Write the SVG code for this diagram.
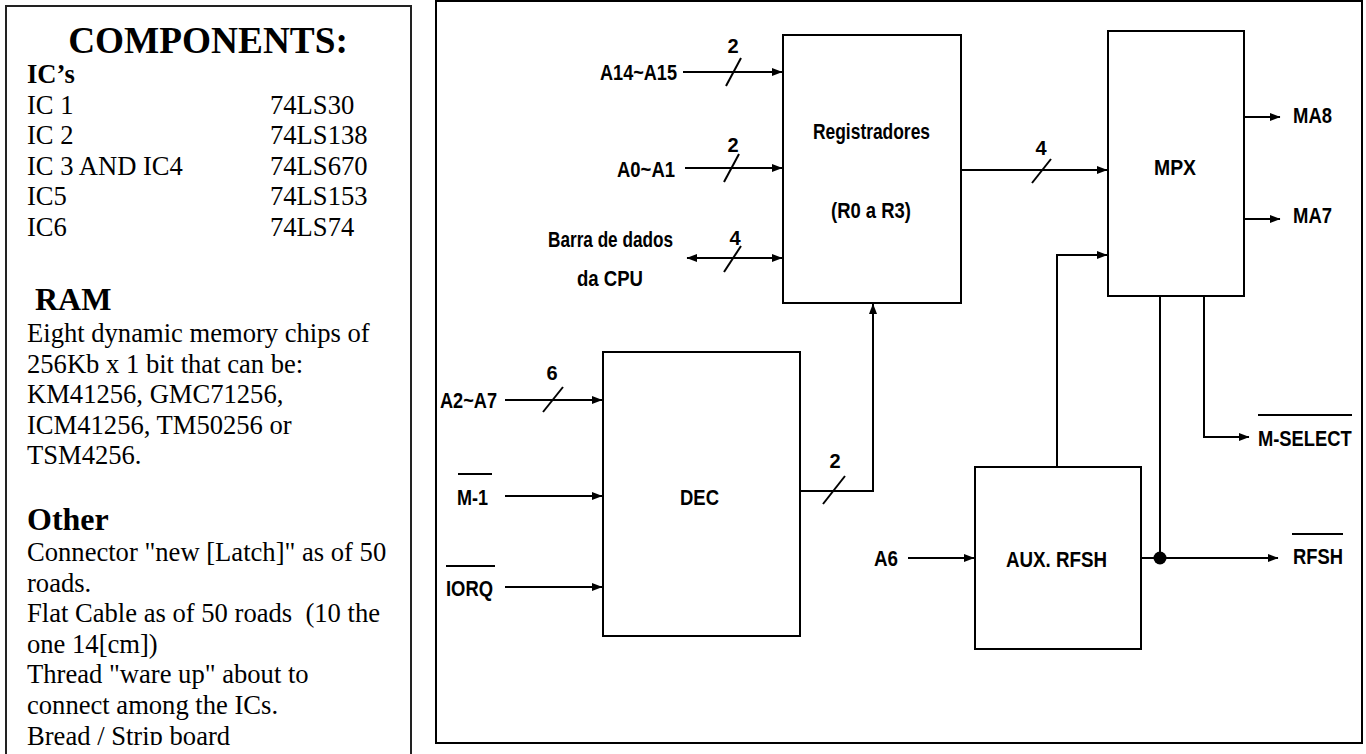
<svg xmlns="http://www.w3.org/2000/svg" width="1366" height="754" viewBox="0 0 1366 754">
<style>
.frame{fill:none;stroke:#000;stroke-width:2}
.lframe{fill:none;stroke:#222;stroke-width:2}
.box{fill:#fff;stroke:#000;stroke-width:2}
.w{fill:none;stroke:#000;stroke-width:2}
.arr{marker-end:url(#ah)}
.ser{font-family:"Liberation Serif","Times New Roman",serif;font-size:26.6px;fill:#000}
.serb{font-family:"Liberation Serif","Times New Roman",serif;font-weight:bold;fill:#000}
.lbl{font-family:"Liberation Sans",Arial,sans-serif;font-weight:bold;font-size:22.5px;fill:#000}
.num{font-family:"Liberation Sans",Arial,sans-serif;font-weight:bold;font-size:20px;fill:#000;text-anchor:middle}
</style>
<defs>
<marker id="ah" markerUnits="userSpaceOnUse" markerWidth="11" markerHeight="9" refX="10" refY="4.5" orient="auto-start-reverse" viewBox="0 0 11 9">
<path d="M0,0.5 L10.5,4.5 L0,8.5 z" fill="#000"/>
</marker>
<clipPath id="lclip"><rect x="0" y="0" width="430" height="745"/></clipPath>
</defs>
<rect width="1366" height="754" fill="#fff"/>

<g id="components-panel">
<rect class="lframe" x="6" y="6" width="405" height="800"/>
<g clip-path="url(#lclip)">
<text class="serb" x="208" y="53" font-size="37.3" text-anchor="middle">COMPONENTS:</text>
<text class="serb" x="27" y="83" font-size="26.6">IC’s</text>
<text class="ser" x="27" y="114">IC 1</text><text class="ser" x="270" y="114">74LS30</text>
<text class="ser" x="27" y="144">IC 2</text><text class="ser" x="270" y="144">74LS138</text>
<text class="ser" x="27" y="175">IC 3 AND IC4</text><text class="ser" x="270" y="175">74LS670</text>
<text class="ser" x="27" y="205">IC5</text><text class="ser" x="270" y="205">74LS153</text>
<text class="ser" x="27" y="236">IC6</text><text class="ser" x="270" y="236">74LS74</text>
<text class="serb" x="35" y="310" font-size="32">RAM</text>
<text class="ser" x="27" y="342">Eight dynamic memory chips of</text>
<text class="ser" x="27" y="373">256Kb x 1 bit that can be:</text>
<text class="ser" x="27" y="403">KM41256, GMC71256,</text>
<text class="ser" x="27" y="434">ICM41256, TM50256 or</text>
<text class="ser" x="27" y="464">TSM4256.</text>
<text class="serb" x="27" y="530" font-size="32">Other</text>
<text class="ser" x="27" y="561">Connector "new [Latch]" as of 50</text>
<text class="ser" x="27" y="592">roads.</text>
<text class="ser" x="27" y="622" xml:space="preserve">Flat Cable as of 50 roads  (10 the</text>
<text class="ser" x="27" y="653">one 14[cm])</text>
<text class="ser" x="27" y="683">Thread "ware up" about to</text>
<text class="ser" x="27" y="714">connect among the ICs.</text>
<text class="ser" x="27" y="745">Bread / Strip board</text>
</g>
</g>

<g id="diagram">
<rect class="frame" x="436" y="1" width="926" height="742"/>

<g id="node-registradores">
<rect class="box" x="783" y="35" width="178" height="268"/>
<text class="lbl" x="813" y="139" textLength="117" lengthAdjust="spacingAndGlyphs">Registradores</text>
<text class="lbl" x="831" y="218" textLength="80" lengthAdjust="spacingAndGlyphs">(R0 a R3)</text>
</g>
<g id="node-mpx">
<rect class="box" x="1108" y="31" width="136" height="265"/>
<text class="lbl" x="1154" y="175" textLength="42" lengthAdjust="spacingAndGlyphs">MPX</text>
</g>
<g id="node-dec">
<rect class="box" x="603" y="352" width="197" height="284"/>
<text class="lbl" x="680" y="505" textLength="39" lengthAdjust="spacingAndGlyphs">DEC</text>
</g>
<g id="node-aux-rfsh">
<rect class="box" x="975" y="467" width="166" height="182"/>
<text class="lbl" x="1006" y="567" textLength="101" lengthAdjust="spacingAndGlyphs">AUX. RFSH</text>
</g>

<g id="signal-labels">
<text class="lbl" x="600" y="80" textLength="77" lengthAdjust="spacingAndGlyphs">A14~A15</text>
<text class="lbl" x="617" y="177" textLength="58" lengthAdjust="spacingAndGlyphs">A0~A1</text>
<text class="lbl" x="548" y="247" textLength="125" lengthAdjust="spacingAndGlyphs">Barra de dados</text>
<text class="lbl" x="577" y="286" textLength="66" lengthAdjust="spacingAndGlyphs">da CPU</text>
<text class="lbl" x="440" y="408" textLength="57" lengthAdjust="spacingAndGlyphs">A2~A7</text>
<text class="lbl" x="457" y="505" textLength="31" lengthAdjust="spacingAndGlyphs">M-1</text>
<line class="w" x1="458" y1="474" x2="492" y2="474"/>
<text class="lbl" x="446" y="596" textLength="47" lengthAdjust="spacingAndGlyphs">IORQ</text>
<line class="w" x1="446" y1="566" x2="495" y2="566"/>
<text class="lbl" x="874" y="566" textLength="24" lengthAdjust="spacingAndGlyphs">A6</text>
<text class="lbl" x="1293" y="123" textLength="39" lengthAdjust="spacingAndGlyphs">MA8</text>
<text class="lbl" x="1293" y="223" textLength="39" lengthAdjust="spacingAndGlyphs">MA7</text>
<text class="lbl" transform="translate(1258,446) scale(0.815,1)">M-SELECT</text>
<line class="w" x1="1258" y1="415" x2="1352" y2="415"/>
<text class="lbl" x="1293" y="564" textLength="50" lengthAdjust="spacingAndGlyphs">RFSH</text>
<line class="w" x1="1292" y1="534" x2="1343" y2="534"/>
<text class="num" x="733" y="53">2</text>
<text class="num" x="733" y="152">2</text>
<text class="num" x="735" y="245">4</text>
<text class="num" x="1041" y="155">4</text>
<text class="num" x="552" y="380">6</text>
<text class="num" x="835" y="468">2</text>
</g>

<g id="connectors">
<line class="w arr" x1="683" y1="72" x2="782" y2="72"/>
<line class="w" x1="726" y1="86" x2="741" y2="58"/>
<line class="w arr" x1="685" y1="168" x2="782" y2="168"/>
<line class="w" x1="724" y1="182" x2="739" y2="154"/>
<line class="w arr" x1="687" y1="258" x2="782" y2="258" marker-start="url(#ah)"/>
<line class="w" x1="724" y1="272" x2="741" y2="246"/>
<line class="w arr" x1="961" y1="170" x2="1107" y2="170"/>
<line class="w" x1="1032" y1="183" x2="1051" y2="159"/>
<line class="w arr" x1="1244" y1="117" x2="1280" y2="117"/>
<line class="w arr" x1="1244" y1="219" x2="1280" y2="219"/>
<polyline class="w arr" points="1057,467 1057,255 1107,255"/>
<polyline class="w arr" points="1204,296 1204,437 1249,437"/>
<line class="w" x1="1160" y1="296" x2="1160" y2="558"/>
<line class="w arr" x1="1141" y1="558" x2="1278" y2="558"/>
<circle cx="1160" cy="558" r="6.5" fill="#000"/>
<line class="w arr" x1="908" y1="558" x2="974" y2="558"/>
<polyline class="w arr" points="800,491 873,491 873,304"/>
<line class="w" x1="823" y1="504" x2="845" y2="476"/>
<line class="w arr" x1="505" y1="400" x2="602" y2="400"/>
<line class="w" x1="543" y1="412" x2="563" y2="387"/>
<line class="w arr" x1="505" y1="496" x2="602" y2="496"/>
<line class="w arr" x1="505" y1="587" x2="602" y2="587"/>
</g>
</g>
</svg>
